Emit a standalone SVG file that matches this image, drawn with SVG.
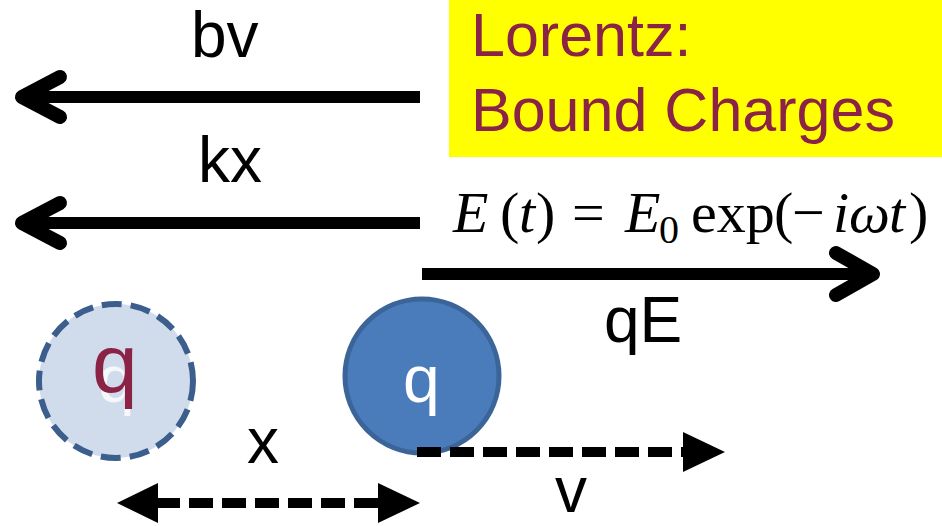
<svg xmlns="http://www.w3.org/2000/svg" width="942" height="526" viewBox="0 0 942 526">
<style>
.lbl{font-family:"Liberation Sans",Arial,sans-serif;font-size:64px;fill:#000}
.title{font-family:"Liberation Sans",Arial,sans-serif;font-size:61px;fill:#8B2346}
.eq{font-family:"Liberation Serif","Times New Roman",serif;font-size:58px;fill:#000}
.it{font-style:italic}
.force{stroke:#000;stroke-width:12;fill:none}
.head{stroke:#000;stroke-width:14;fill:none;stroke-linecap:round;stroke-linejoin:round}
.dash{stroke:#000;stroke-width:10;stroke-dasharray:24 9;fill:none}
.tri{fill:#000}
</style>
<rect x="0" y="0" width="942" height="526" fill="#fff"/>
<g id="title">
<rect x="449" y="0" width="493" height="157" fill="#FFFF00"/>
<text class="title" x="471" y="56">Lorentz:</text>
<text class="title" x="471" y="131">Bound Charges</text>
</g>
<g id="equation">
<text class="eq it" x="453" y="232">E</text>
<text class="eq" x="500" y="232">(</text>
<text class="eq it" x="519" y="232">t</text>
<text class="eq" x="536" y="232">)</text>
<text class="eq" x="572" y="232">=</text>
<text class="eq it" x="625" y="232">E</text>
<text class="eq" x="659" y="243" style="font-size:40px">0</text>
<text class="eq" x="691" y="232">exp</text>
<text class="eq" x="774" y="232">(</text>
<text class="eq" x="792" y="232">−</text>
<text class="eq it" x="833" y="232">i</text>
<text class="eq it" x="849" y="232">ω</text>
<text class="eq it" x="889" y="232">t</text>
<text class="eq" x="909" y="232">)</text>
</g>
<g id="charge-rest">
<circle cx="116" cy="381" r="77" fill="#D0DCEC" stroke="#3B5E8C" stroke-width="6" stroke-dasharray="20 9"/>
<text class="lbl" x="98" y="402" style="fill:#fff;font-size:66px;opacity:0.8">q</text>
<text class="lbl" x="92" y="392" style="fill:#8B2346;font-size:82px">q</text>
</g>
<g id="charge-moving">
<circle cx="422" cy="376" r="77" fill="#4A7CBC" stroke="#3B6498" stroke-width="5"/>
<text class="lbl" x="403" y="402" style="fill:#fff;font-size:66px">q</text>
</g>
<g id="labels">
<text class="lbl" x="191" y="57">bv</text>
<text class="lbl" x="198" y="182">kx</text>
<text class="lbl" x="604" y="342">qE</text>
<text class="lbl" x="247" y="463">x</text>
<text class="lbl" x="555" y="512">v</text>
</g>
<g id="connectors">
<line class="force" x1="420" y1="97" x2="24" y2="97"/>
<polyline class="head" points="60,77 22,97 60,117"/>
<line class="force" x1="420" y1="223" x2="24" y2="223"/>
<polyline class="head" points="60,203 22,223 60,243"/>
<line class="force" x1="422" y1="274" x2="870" y2="274"/>
<polyline class="head" points="836,253 873,274 836,295"/>
<line class="dash" x1="417" y1="452" x2="685" y2="452"/>
<polygon class="tri" points="683,432 725,452 683,472"/>
<line class="dash" x1="156" y1="503" x2="380" y2="503"/>
<polygon class="tri" points="158,483 117,503 158,523"/>
<polygon class="tri" points="378,483 420,503 378,523"/>
</g>
</svg>
